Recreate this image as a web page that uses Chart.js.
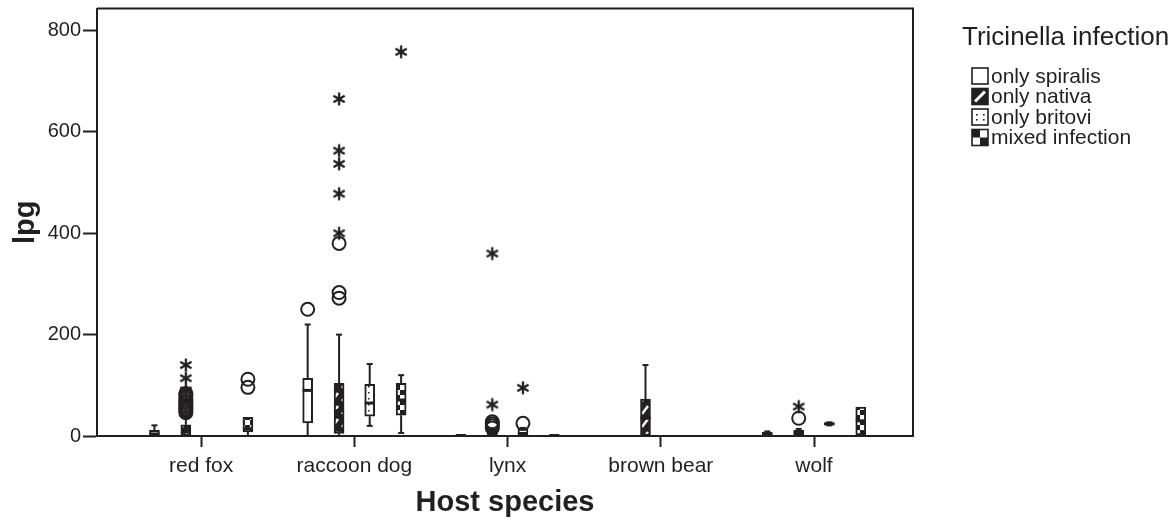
<!DOCTYPE html>
<html>
<head>
<meta charset="utf-8">
<title>lpg by host species</title>
<script src="https://cdn.jsdelivr.net/npm/chart.js@4.4.1/dist/chart.umd.min.js"></script>
<style>
  html, body { margin: 0; padding: 0; background: #fff; }
  #wrap { width: 1175px; height: 529px; position: relative; }
</style>
</head>
<body>
<div id="wrap"><canvas id="lpgChart"></canvas></div>
<script>
// categories and tick labels
const hosts = ['red fox', 'raccoon dog', 'lynx', 'brown bear', 'wolf'];
const infections = ['only spiralis', 'only nativa', 'only britovi', 'mixed infection'];
const yTicks = [0, 200, 400, 600, 800];

// box stats per host: [whisker low, q1, median, q3, whisker high], null = no box
const spiralisStats = [[0, 0, 4, 11, 21], [0, 26, 90, 114, 220], [0, 0, 1, 3, 3], null, [0, 0, 3, 7, 9]];
const nativaStats   = [[0, 0, 8, 22, 40], [0, 5, 50, 104, 200], [0, 0, 3, 8, 12], [0, 0, 35, 73, 140], [0, 2, 6, 11, 14]];
const britoviStats  = [null, [20, 39, 65, 102, 142], [0, 1, 5, 14, 16], null, [21, 22, 24, 26, 27]];
const mixedStats    = [[0, 8, 14, 37, 37], [6, 41, 71, 104, 120], [0, 0, 1, 2, 2], null, [2, 2, 30, 57, 57]];

// outliers (circles) and extremes (stars) per host
const spiralisCircles = [[], [250], [], [], []];
const nativaCircles   = [[46, 50, 54, 58, 62, 66, 70, 75, 80, 84], [272, 283, 380], [16, 20, 24, 28], [], [35]];
const britoviCircles  = [[], [], [25], [], []];
const mixedCircles    = [[96, 112], [], [], [], []];

const spiralisStars = [[], [], [], [], []];
const nativaStars   = [[90, 114, 140], [400, 478, 537, 563, 665], [62, 360], [], [58]];
const britoviStars  = [[], [], [95], [], []];
const mixedStars    = [[], [758], [], [], []];

const allStats = [spiralisStats, nativaStats, britoviStats, mixedStats];
const allCircles = [spiralisCircles, nativaCircles, britoviCircles, mixedCircles];
const allStars = [spiralisStars, nativaStars, britoviStars, mixedStars];

const ink = '#231f20';
const groupOffset = [-0.305, -0.1, 0.1, 0.305];
const fontFamily = '"Liberation Sans", Arial, Helvetica, sans-serif';

function tile(w, h, paint) {
    const c = document.createElement('canvas');
    c.width = w; c.height = h;
    const g = c.getContext('2d');
    paint(g);
    return g.createPattern(c, 'repeat');
}

const fills = [
    '#ffffff',
    tile(10, 13, g => {
        g.fillStyle = ink; g.fillRect(0, 0, 10, 13);
        g.strokeStyle = '#fff'; g.lineWidth = 2.5;
        g.beginPath(); g.moveTo(2, 11); g.lineTo(8, 3); g.stroke();
    }),
    tile(6, 6, g => {
        g.fillStyle = '#fff'; g.fillRect(0, 0, 6, 6);
        g.fillStyle = ink; g.fillRect(2, 2, 1.5, 1.5);
    }),
    tile(10, 10, g => {
        g.fillStyle = '#fff'; g.fillRect(0, 0, 10, 10);
        g.fillStyle = ink; g.fillRect(0, 0, 5, 5); g.fillRect(5, 5, 5, 5);
    })
];

// asterisk used for extreme values
const star = document.createElement('canvas');
star.width = 16; star.height = 16;
(() => {
    const g = star.getContext('2d');
    g.strokeStyle = ink; g.lineWidth = 2.3;
    [90, 30, 150].forEach(a => {
        const r = a * Math.PI / 180, dx = Math.cos(r) * 6.5, dy = Math.sin(r) * 6.5;
        g.beginPath(); g.moveTo(8 - dx, 8 - dy); g.lineTo(8 + dx, 8 + dy); g.stroke();
    });
})();

const datasets = [];
infections.forEach((name, i) => {
    const pts = [];
    allStats[i].forEach((s, h) => {
        if (s) pts.push({ x: h + groupOffset[i], y: [s[1], s[3]] });
    });
    datasets.push({
        type: 'bar',
        label: name,
        data: pts,
        backgroundColor: fills[i],
        borderColor: ink,
        borderWidth: 2,
        borderSkipped: false,
        grouped: false,
        barPercentage: 1,
        categoryPercentage: 1,
        maxBarThickness: 10,
        order: 3
    });
});

const circlePts = [], starPts = [];
infections.forEach((name, i) => {
    hosts.forEach((host, h) => {
        allCircles[i][h].forEach(v => circlePts.push({ x: h + groupOffset[i], y: v }));
        allStars[i][h].forEach(v => starPts.push({ x: h + groupOffset[i], y: v }));
    });
});
datasets.push({
    type: 'scatter', label: 'outliers', data: circlePts,
    pointStyle: 'circle', pointRadius: 6.5, borderWidth: 2,
    borderColor: ink, backgroundColor: 'rgba(0,0,0,0)', order: 1
});
datasets.push({
    type: 'scatter', label: 'extremes', data: starPts,
    pointStyle: star, pointRadius: 7, order: 1
});

const boxPlugin = {
    id: 'boxParts',
    beforeDatasetsDraw(chart) {
        const { ctx, scales: { x, y } } = chart;
        ctx.save();
        ctx.strokeStyle = ink;
        ctx.lineWidth = 2;
        allStats.forEach((stats, i) => {
            stats.forEach((s, h) => {
                if (!s) return;
                const px = x.getPixelForValue(h + groupOffset[i]);
                const seg = (a, b) => {
                    if (a === b) return;
                    ctx.beginPath();
                    ctx.moveTo(px, y.getPixelForValue(a));
                    ctx.lineTo(px, y.getPixelForValue(b));
                    ctx.stroke();
                };
                seg(s[0], s[1]);
                seg(s[3], s[4]);
                // whisker caps
                [s[0], s[4]].forEach((v, k) => {
                    if ((k === 0 && v === s[1]) || (k === 1 && v === s[3])) return;
                    const py = y.getPixelForValue(v);
                    ctx.beginPath();
                    ctx.moveTo(px - 3, py); ctx.lineTo(px + 3, py);
                    ctx.stroke();
                });
            });
        });
        ctx.restore();
    },
    afterDatasetDraw(chart, args) {
        if (args.meta.type !== 'bar') return;
        const i = args.index;
        const { ctx, scales: { x, y } } = chart;
        ctx.save();
        ctx.strokeStyle = ink;
        ctx.lineWidth = 3;
        allStats[i].forEach((s, h) => {
            if (!s) return;
            const px = x.getPixelForValue(h + groupOffset[i]);
            const py = y.getPixelForValue(s[2]);
            ctx.beginPath();
            ctx.moveTo(px - 5, py); ctx.lineTo(px + 5, py);
            ctx.stroke();
        });
        ctx.restore();
    },
    afterDraw(chart) {
        const { ctx, chartArea: a } = chart;
        ctx.save();
        ctx.strokeStyle = ink;
        ctx.lineWidth = 2;
        ctx.beginPath();
        ctx.moveTo(a.left, a.top); ctx.lineTo(a.right, a.top); ctx.lineTo(a.right, a.bottom);
        ctx.stroke();

        // legend
        ctx.fillStyle = ink;
        ctx.textAlign = 'left';
        ctx.textBaseline = 'alphabetic';
        ctx.font = '26px ' + fontFamily;
        ctx.fillText('Tricinella infection', 962, 45);
        ctx.font = '21px ' + fontFamily;
        ctx.textBaseline = 'middle';
        infections.forEach((name, i) => {
            const cy = 76 + i * 20.5, s = 16, bx = 972, by = cy - 8;
            ctx.fillStyle = '#fff';
            ctx.fillRect(bx, by, s, s);
            ctx.fillStyle = ink;
            if (i === 1) {
                ctx.fillRect(bx, by, s, s);
                ctx.strokeStyle = '#fff'; ctx.lineWidth = 3;
                ctx.beginPath(); ctx.moveTo(bx + 3, by + s - 3); ctx.lineTo(bx + s - 3, by + 3); ctx.stroke();
            } else if (i === 2) {
                [[4, 5], [s - 5, 5], [4, s - 6], [s - 5, s - 6]].forEach(d => ctx.fillRect(bx + d[0], by + d[1], 1.6, 1.6));
            } else if (i === 3) {
                ctx.fillRect(bx, by, s / 2, s / 2);
                ctx.fillRect(bx + s / 2, by + s / 2, s / 2, s / 2);
            }
            ctx.strokeStyle = ink; ctx.lineWidth = 1.6;
            ctx.strokeRect(bx, by, s, s);
            ctx.fillStyle = ink;
            ctx.fillText(name, bx + s + 3, cy + 1);
        });
        ctx.restore();
    }
};

function noPad(scale) {
    scale.paddingTop = 0; scale.paddingBottom = 0;
    scale.paddingLeft = 0; scale.paddingRight = 0;
}

new Chart(document.getElementById('lpgChart'), {
    type: 'bar',
    data: { datasets: datasets },
    options: {
        responsive: true,
        maintainAspectRatio: false,
        animation: false,
        events: [],
        layout: { padding: { left: 0, top: 8, right: 262, bottom: 0 } },
        plugins: { legend: { display: false }, tooltip: { enabled: false } },
        scales: {
            x: {
                type: 'linear',
                offset: false,
                min: -0.68,
                max: 4.646,
                afterFit(scale) { scale.height = 93; noPad(scale); },
                afterBuildTicks(scale) { scale.ticks = hosts.map((h, i) => ({ value: i })); },
                ticks: {
                    autoSkip: false,
                    maxRotation: 0,
                    padding: 7,
                    color: ink,
                    font: { family: fontFamily, size: 21 },
                    callback: v => hosts[v]
                },
                grid: { display: true, offset: false, drawOnChartArea: false, drawTicks: true, tickLength: 11, tickWidth: 2, tickColor: ink },
                border: { display: true, width: 2, color: ink },
                title: {
                    display: true, text: 'Host species', color: ink,
                    font: { family: fontFamily, size: 29, weight: 'bold' },
                    padding: { top: 0, bottom: 9 }
                }
            },
            y: {
                type: 'linear',
                min: 0,
                max: 843.5,
                afterFit(scale) { scale.width = 97; noPad(scale); },
                afterBuildTicks(scale) { scale.ticks = yTicks.map(v => ({ value: v })); },
                ticks: {
                    padding: 2,
                    color: ink,
                    font: { family: fontFamily, size: 20 }
                },
                grid: { display: true, drawOnChartArea: false, drawTicks: true, tickLength: 14, tickWidth: 2, tickColor: ink },
                border: { display: true, width: 2, color: ink },
                title: {
                    display: true, text: 'lpg', color: ink,
                    font: { family: fontFamily, size: 29, weight: 'bold' },
                    padding: { top: 9, bottom: 0 }
                }
            }
        }
    },
    plugins: [boxPlugin]
});
</script>
</body>
</html>
